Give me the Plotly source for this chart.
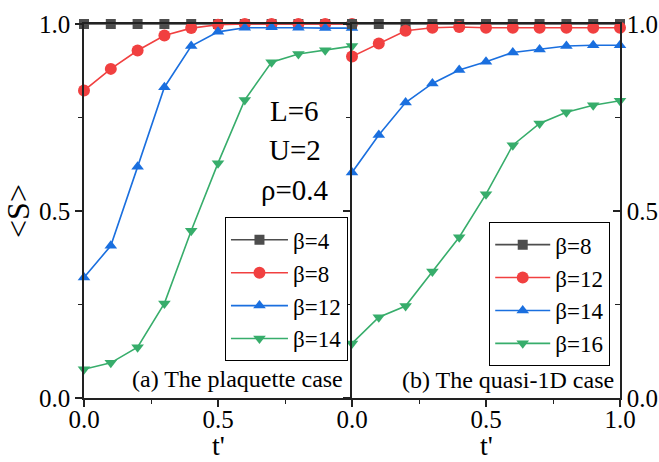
import plotly.graph_objects as go

# hopping ratio t'
t_prime = [0.0, 0.1, 0.2, 0.3, 0.4, 0.5, 0.6, 0.7, 0.8, 0.9, 1.0]

# (a) plaquette case
plaq_labels = ["β=4", "β=8", "β=12", "β=14"]
plaq_b4 = [1.0, 1.0, 1.0, 1.0, 1.0, 1.0, 1.0, 1.0, 1.0, 1.0, 1.0]
plaq_b8 = [0.822, 0.880, 0.929, 0.969, 0.989, 0.998, 1.0, 1.0, 1.0, 1.0, 1.0]
plaq_b12 = [0.322, 0.407, 0.618, 0.831, 0.941, 0.979, 0.990, 0.991, 0.990, 0.989, 0.989]
plaq_b14 = [0.077, 0.094, 0.136, 0.253, 0.447, 0.628, 0.797, 0.898, 0.920, 0.930, 0.941]

# (b) quasi-1D case
q1d_labels = ["β=8", "β=12", "β=14", "β=16"]
q1d_b8 = [1.0, 1.0, 1.0, 1.0, 1.0, 1.0, 1.0, 1.0, 1.0, 1.0, 1.0]
q1d_b12 = [0.913, 0.948, 0.982, 0.990, 0.992, 0.990, 0.990, 0.990, 0.990, 0.990, 0.990]
q1d_b14 = [0.603, 0.703, 0.790, 0.841, 0.877, 0.899, 0.924, 0.932, 0.941, 0.943, 0.943]
q1d_b16 = [0.146, 0.216, 0.246, 0.338, 0.430, 0.545, 0.676, 0.734, 0.764, 0.783, 0.795]

tick_vals = [0.0, 0.5, 1.0]
tick_text = ["0.0", "0.5", "1.0"]
minor_vals = [0.25, 0.75]

colors = ["#4D4D4D", "#F14040", "#1A6FDF", "#37AD6B"]
symbols = ["square", "circle", "triangle-up", "triangle-down"]
sizes = [10, 12, 11, 11]

FONT = "Liberation Serif"
AXC = "#222222"

fig = go.Figure()

for i, (name, ys) in enumerate(zip(plaq_labels, [plaq_b4, plaq_b8, plaq_b12, plaq_b14])):
    fig.add_trace(go.Scatter(
        x=t_prime, y=ys, name=name, mode="lines+markers",
        xaxis="x", yaxis="y", legend="legend", cliponaxis=False,
        line=dict(color=colors[i], width=1.6),
        marker=dict(symbol=symbols[i], size=sizes[i], color=colors[i]),
    ))

for i, (name, ys) in enumerate(zip(q1d_labels, [q1d_b8, q1d_b12, q1d_b14, q1d_b16])):
    fig.add_trace(go.Scatter(
        x=t_prime, y=ys, name=name, mode="lines+markers",
        xaxis="x2", yaxis="y2", legend="legend2", cliponaxis=False,
        line=dict(color=colors[i], width=1.6),
        marker=dict(symbol=symbols[i], size=sizes[i], color=colors[i]),
    ))

tick_font = dict(family=FONT, size=25, color="black")

common_x = dict(
    range=[0, 1], showline=True, linecolor=AXC, linewidth=1.6, mirror=True,
    ticks="outside", ticklen=7, tickwidth=1.6, tickcolor=AXC,
    tickmode="array", tickvals=tick_vals, automargin=False,
    ticklabelstandoff=-9,
    minor=dict(tickmode="array", tickvals=minor_vals, ticks="outside",
               ticklen=4, tickwidth=1.4, tickcolor=AXC),
    showgrid=False, zeroline=False, tickfont=tick_font,
)

common_y = dict(
    range=[0, 1], showline=True, linecolor=AXC, linewidth=1.6,
    tickmode="array", tickvals=tick_vals, ticktext=tick_text,
    ticklen=7, tickwidth=1.6, tickcolor=AXC, automargin=False,
    showgrid=False, zeroline=False, tickfont=tick_font,
)

legend_font = dict(family=FONT, size=23, color="black")

fig.update_layout(
    width=659, height=462,
    margin=dict(l=84, r=39, t=24, b=64),
    paper_bgcolor="white", plot_bgcolor="white",
    font=dict(family=FONT, color="black"),
    xaxis=dict(domain=[0, 0.5], anchor="y", ticktext=["0.0", "0.5", ""], **common_x),
    xaxis2=dict(domain=[0.5, 1], anchor="y2", ticktext=tick_text, **common_x),
    yaxis=dict(anchor="x", side="left", mirror=False, ticks="outside",
               minor=dict(tickmode="array", tickvals=minor_vals, ticks="outside",
                          ticklen=4, tickwidth=1.4, tickcolor=AXC),
               title=dict(text="&lt;S&gt;", font=dict(family=FONT, size=32, color="black"),
                          standoff=1),
               **common_y),
    yaxis2=dict(anchor="x2", side="right", ticks="inside",
                minor=dict(tickmode="array", tickvals=minor_vals, ticks="inside",
                           ticklen=5, tickwidth=1.4, tickcolor=AXC),
                **common_y),
    yaxis3=dict(anchor="x2", overlaying="y2", side="left", ticks="outside",
                showticklabels=False,
                minor=dict(tickmode="array", tickvals=minor_vals, ticks="outside",
                           ticklen=4, tickwidth=1.4, tickcolor=AXC),
                **common_y),
    legend=dict(x=0.263, y=0.483, xanchor="left", yanchor="top",
                bgcolor="white", bordercolor="black", borderwidth=1,
                font=legend_font, tracegroupgap=0, itemwidth=57),
    legend2=dict(x=0.756, y=0.470, xanchor="left", yanchor="top",
                 bgcolor="white", bordercolor="black", borderwidth=1,
                 font=legend_font, tracegroupgap=0, itemwidth=55),
    showlegend=True,
)

# empty trace so the overlaying left axis of panel (b) is drawn
fig.add_trace(go.Scatter(x=[None], y=[None], xaxis="x2", yaxis="y3",
                         showlegend=False, hoverinfo="skip"))

# x-axis titles below each panel
for xc in [0.25, 0.75]:
    fig.add_annotation(x=xc, y=-0.126, xref="paper", yref="paper", text="t'",
                       showarrow=False, xanchor="center", yanchor="middle",
                       font=dict(family=FONT, size=28, color="black"))

# parameter labels in panel (a)
for txt, yv in [("L=6", 0.767), ("U=2", 0.663), ("ρ=0.4", 0.556)]:
    fig.add_annotation(x=0.787, y=yv, xref="x", yref="y", text=txt, showarrow=False,
                       font=dict(family=FONT, size=29, color="black"),
                       xanchor="center", yanchor="middle")

fig.add_annotation(x=0.974, y=0.050, xref="x", yref="y", text="(a) The plaquette case",
                   showarrow=False, xanchor="right", yanchor="middle",
                   font=dict(family=FONT, size=24, color="black"))
fig.add_annotation(x=0.984, y=0.047, xref="x2", yref="y2", text="(b) The quasi-1D case",
                   showarrow=False, xanchor="right", yanchor="middle",
                   font=dict(family=FONT, size=24, color="black"))

fig.write_html("out.html")
